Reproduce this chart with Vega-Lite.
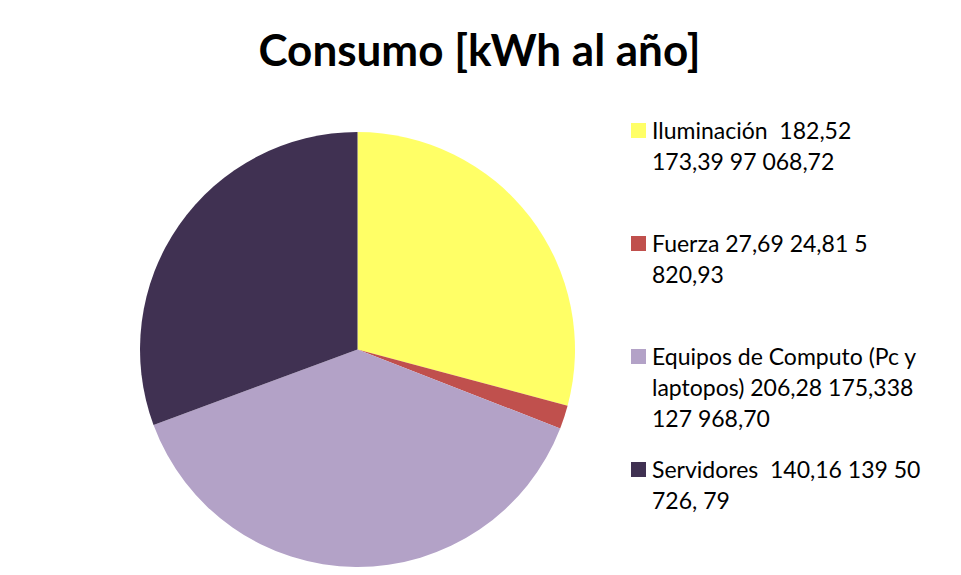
{
  "$schema": "https://vega.github.io/schema/vega-lite/v6.json",
  "width": 715,
  "height": 435,
  "autosize": {"type": "none"},
  "padding": {"left": 0, "top": 132, "right": 246, "bottom": 8},
  "background": "white",
  "title": {
    "text": "Consumo [kWh al año]",
    "font": "Lato",
    "fontSize": 44,
    "fontWeight": "bold",
    "color": "#000000",
    "anchor": "middle",
    "dx": 122,
    "offset": 44
  },
  "data": {
    "values": [
      {"orden": 1, "serie": "Iluminación\u00a0 182,52|173,39 97 068,72| ", "consumo": 97068.72},
      {"orden": 2, "serie": "Fuerza 27,69 24,81 5|820,93| ", "consumo": 5820.93},
      {"orden": 3, "serie": "Equipos de Computo (Pc y|laptopos) 206,28 175,338|127 968,70", "consumo": 127968.70},
      {"orden": 4, "serie": "Servidores\u00a0 140,16 139 50|726, 79| ", "consumo": 102000}
    ]
  },
  "mark": {"type": "arc", "stroke": null},
  "encoding": {
    "theta": {"field": "consumo", "type": "quantitative", "stack": true},
    "order": {"field": "orden", "type": "quantitative"},
    "color": {
      "field": "serie",
      "type": "nominal",
      "scale": {
        "domain": [
          "Iluminación\u00a0 182,52|173,39 97 068,72| ",
          "Fuerza 27,69 24,81 5|820,93| ",
          "Equipos de Computo (Pc y|laptopos) 206,28 175,338|127 968,70",
          "Servidores\u00a0 140,16 139 50|726, 79| "
        ],
        "range": ["#FFFF66", "#C0504D", "#B3A2C7", "#403152"]
      },
      "legend": {
        "title": null,
        "orient": "none",
        "legendX": 627,
        "legendY": -13,
        "symbolType": "square",
        "symbolSize": 225,
        "symbolStrokeWidth": 0,
        "labelFont": "Lato",
        "labelFontSize": 23,
        "labelColor": "#000000",
        "labelLimit": 320,
        "labelBaseline": "top",
        "labelOffset": 2,
        "rowPadding": 26,
        "padding": 0,
        "labelExpr": "split(datum.label, '|')"
      }
    }
  },
  "config": {
    "view": {"stroke": null},
    "style": {"guide-label": {"lineHeight": 31, "dy": -10}}
  }
}
